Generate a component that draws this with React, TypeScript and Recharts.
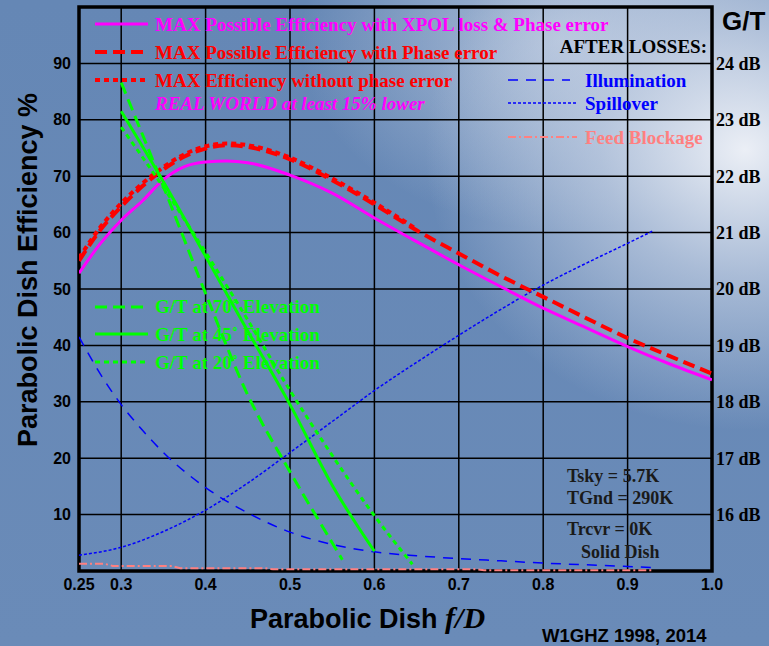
import { CartesianGrid, Line, LineChart, ReferenceArea, XAxis, YAxis } from 'recharts'

const SERIF = '"Liberation Serif", "Times New Roman", serif'
const SANS = '"Liberation Sans", Arial, sans-serif'

// axes
const fdTicks = [0.25, 0.3, 0.4, 0.5, 0.6, 0.7, 0.8, 0.9, 1.0]
const effTicks = [10, 20, 30, 40, 50, 60, 70, 80, 90]
const gtTicks = [16, 17, 18, 19, 20, 21, 22, 23, 24]

// efficiency curves (%)
const effFd = [0.25, 0.275, 0.3, 0.325, 0.35, 0.375, 0.4, 0.425, 0.45, 0.5, 0.55, 0.6, 0.65, 0.7, 0.75, 0.8, 0.85, 0.9, 0.95, 1.0]
const xpolPhaseEff = [52.8, 58.0, 62.2, 65.6, 69.4, 71.7, 72.5, 72.7, 72.4, 70.2, 67.0, 62.6, 58.4, 54.3, 50.4, 46.6, 43.2, 39.8, 36.7, 33.9]
const phaseErrEff = [55.0, 60.4, 64.6, 68.2, 71.2, 73.5, 74.9, 75.5, 75.2, 73.0, 69.3, 65.0, 60.4, 56.3, 52.3, 48.6, 44.9, 41.3, 38.1, 35.0]
const noPhaseFd = [0.25, 0.275, 0.3, 0.325, 0.35, 0.375, 0.4, 0.425, 0.45, 0.5, 0.55, 0.6, 0.65]
const noPhaseEff = [55.5, 60.9, 65.2, 68.7, 71.6, 73.9, 75.3, 75.8, 75.5, 73.3, 69.6, 65.3, 60.6]

// losses (%)
const illumFd = [0.25, 0.275, 0.3, 0.325, 0.35, 0.4, 0.45, 0.5, 0.55, 0.6, 0.65, 0.7, 0.75, 0.8, 0.85, 0.9, 0.93]
const illumLoss = [41.5, 35.0, 29.5, 25.0, 21.0, 14.8, 10.3, 6.9, 4.7, 3.4, 2.7, 2.2, 1.8, 1.4, 1.1, 0.8, 0.6]
const spillFd = [0.25, 0.3, 0.35, 0.4, 0.45, 0.5, 0.55, 0.6, 0.65, 0.7, 0.75, 0.8, 0.85, 0.9, 0.93]
const spillLoss = [2.8, 4.2, 7.0, 10.8, 15.6, 21.0, 26.5, 32.0, 37.0, 41.8, 46.4, 50.7, 54.5, 58.1, 60.3]
const blockFd = [0.25, 0.28, 0.29, 0.36, 0.37, 0.47, 0.48, 0.72, 0.73, 0.93]
const blockLoss = [1.3, 1.3, 0.9, 0.9, 0.5, 0.5, 0.3, 0.3, 0.15, 0.15]

// G/T (dB)
const gt70Fd = [0.3, 0.35, 0.4, 0.45, 0.5, 0.55, 0.562]
const gt70 = [23.66, 21.82, 19.92, 18.12, 16.76, 15.5, 15.2]
const gt45Fd = [0.3, 0.35, 0.4, 0.45, 0.5, 0.55, 0.6]
const gt45 = [23.15, 21.9, 20.58, 19.25, 17.95, 16.52, 15.35]
const gt20Fd = [0.3, 0.35, 0.4, 0.45, 0.5, 0.55, 0.6, 0.645]
const gt20 = [22.87, 21.8, 20.65, 19.45, 18.2, 17.05, 15.98, 15.12]

const toPoints = (xs: number[], ys: number[]) => xs.map((fd, i) => ({ fd, v: ys[i] }))

const series = [
  { key: 'illum', data: toPoints(illumFd, illumLoss), axis: 'left', color: '#0000ff', width: 1.5, dash: '10 8', curve: 'monotone' },
  { key: 'spill', data: toPoints(spillFd, spillLoss), axis: 'left', color: '#0000ff', width: 1.5, dash: '3 2', curve: 'monotone' },
  { key: 'block', data: toPoints(blockFd, blockLoss), axis: 'left', color: '#ff8080', width: 2, dash: '8 3 2 3', curve: 'linear' },
  { key: 'noPhase', data: toPoints(noPhaseFd, noPhaseEff), axis: 'left', color: '#ff0000', width: 4, dash: '5 4', curve: 'monotone' },
  { key: 'phaseErr', data: toPoints(effFd, phaseErrEff), axis: 'left', color: '#ff0000', width: 4, dash: '12 6', curve: 'monotone' },
  { key: 'xpol', data: toPoints(effFd, xpolPhaseEff), axis: 'left', color: '#ff00ff', width: 3, dash: undefined, curve: 'monotone' },
  { key: 'gt70', data: toPoints(gt70Fd, gt70), axis: 'right', color: '#00ff00', width: 3, dash: '12 6', curve: 'monotone' },
  { key: 'gt45', data: toPoints(gt45Fd, gt45), axis: 'right', color: '#00ff00', width: 3, dash: undefined, curve: 'monotone' },
  { key: 'gt20', data: toPoints(gt20Fd, gt20), axis: 'right', color: '#00ff00', width: 3, dash: '5 4', curve: 'monotone' },
]

const bg =
  'radial-gradient(ellipse 320px 280px at 745px 150px, rgba(242,244,249,0.95), rgba(205,215,232,0.65) 45%, rgba(110,140,185,0) 100%),' +
  'radial-gradient(ellipse 260px 190px at 560px 40px, rgba(205,215,232,0.7), rgba(110,140,185,0) 100%),' +
  'linear-gradient(180deg, #6587b5 0%, #6a8bb8 100%)'

function Overlay() {
  const legendText = { fontFamily: SERIF, fontWeight: 'bold' as const, fontSize: 19 }
  return (
    <svg width={769} height={646} style={{ position: 'absolute', left: 0, top: 0, pointerEvents: 'none' }}>
      <line x1={95} x2={148} y1={24} y2={24} stroke="#ff00ff" strokeWidth={3} />
      <text x={155} y={31} fill="#ff00ff" {...legendText}>MAX Possible Efficiency with XPOL loss &amp; Phase error</text>
      <line x1={95} x2={148} y1={52} y2={52} stroke="#ff0000" strokeWidth={4} strokeDasharray="12 6" />
      <text x={155} y={59} fill="#ff0000" {...legendText}>MAX Possible Efficiency with Phase error</text>
      <line x1={95} x2={148} y1={80} y2={80} stroke="#ff0000" strokeWidth={4} strokeDasharray="5 4" />
      <text x={155} y={87} fill="#ff0000" {...legendText}>MAX Efficiency without phase error</text>
      <text x={155} y={110} fill="#ff00ff" {...legendText} fontStyle="italic">REAL WORLD at least 15% lower</text>

      <text x={707} y={53} fill="#000" textAnchor="end" {...legendText}>AFTER LOSSES:</text>
      <line x1={508} x2={570} y1={80} y2={80} stroke="#0000ff" strokeWidth={1.5} strokeDasharray="10 8" />
      <text x={585} y={87} fill="#0000ff" {...legendText}>Illumination</text>
      <line x1={508} x2={577} y1={103} y2={103} stroke="#0000ff" strokeWidth={1.5} strokeDasharray="3 2" />
      <text x={585} y={110} fill="#0000ff" {...legendText}>Spillover</text>
      <line x1={508} x2={577} y1={137} y2={137} stroke="#ff8080" strokeWidth={2} strokeDasharray="8 3 2 3" />
      <text x={585} y={144} fill="#ff8080" {...legendText}>Feed Blockage</text>

      <line x1={95} x2={148} y1={307} y2={307} stroke="#00ff00" strokeWidth={3} strokeDasharray="12 6" />
      <text x={155} y={313} fill="#00ff00" {...legendText}>G/T at 70˚ Elevation</text>
      <line x1={95} x2={148} y1={334} y2={334} stroke="#00ff00" strokeWidth={3} />
      <text x={155} y={341} fill="#00ff00" {...legendText}>G/T at 45˚ Elevation</text>
      <line x1={95} x2={148} y1={362} y2={362} stroke="#00ff00" strokeWidth={3} strokeDasharray="5 4" />
      <text x={155} y={369} fill="#00ff00" {...legendText}>G/T at 20˚ Elevation</text>

      <text x={567} y={482} fill="#1a1a1a" {...legendText} fontSize={18}>Tsky = 5.7K</text>
      <text x={567} y={504} fill="#1a1a1a" {...legendText} fontSize={18}>TGnd = 290K</text>
      <text x={567} y={535} fill="#1a1a1a" {...legendText} fontSize={18}>Trcvr = 0K</text>
      <text x={581} y={558} fill="#1a1a1a" {...legendText} fontSize={18}>Solid Dish</text>

      <text x={722} y={30} fill="#000" fontFamily={SANS} fontWeight="bold" fontSize={26}>G/T</text>
      <text transform="translate(37,270) rotate(-90)" textAnchor="middle" fill="#000" fontFamily={SANS} fontWeight="bold" fontSize={27}>
        Parabolic Dish Efficiency %
      </text>
      <text x={250} y={628} fill="#000" fontFamily={SANS} fontWeight="bold" fontSize={27}>
        Parabolic Dish <tspan fontFamily={SERIF} fontStyle="italic" fontSize={30}>f/D</tspan>
      </text>
      <text x={542} y={642} fill="#000" fontFamily={SANS} fontWeight="bold" fontSize={18.5}>W1GHZ 1998, 2014</text>
    </svg>
  )
}

export default function App() {
  const tickStyle = { fill: '#000', fontFamily: SANS, fontWeight: 'bold', fontSize: 16 }
  return (
    <div style={{ position: 'absolute', left: 0, top: 0, width: 769, height: 646, background: bg, overflow: 'hidden' }}>
      <LineChart width={769} height={646} margin={{ top: 7, right: 0, bottom: 45, left: 29 }}>
        <CartesianGrid yAxisId="left" stroke="#000" strokeWidth={1.5} fill="none" />
        <XAxis
          dataKey="fd"
          type="number"
          domain={[0.25, 1]}
          ticks={fdTicks}
          allowDataOverflow
          axisLine={false}
          tickLine={false}
          height={30}
          tick={tickStyle}
          tickFormatter={(v: number) => (v === 1 ? '1.0' : String(v))}
        />
        <YAxis
          yAxisId="left"
          domain={[0, 100]}
          ticks={effTicks}
          axisLine={false}
          tickLine={false}
          width={50}
          tick={tickStyle}
        />
        <YAxis
          yAxisId="right"
          orientation="right"
          domain={[15, 25]}
          ticks={gtTicks}
          axisLine={false}
          tickLine={false}
          tickSize={2}
          width={57}
          tick={{ fill: '#000', fontFamily: SERIF, fontWeight: 'bold', fontSize: 18 }}
          tickFormatter={(v: number) => `${v} dB`}
        />
        {series.map((s) => (
          <Line
            key={s.key}
            yAxisId={s.axis}
            data={s.data}
            dataKey="v"
            type={s.curve as 'monotone' | 'linear'}
            stroke={s.color}
            strokeWidth={s.width}
            strokeDasharray={s.dash}
            dot={false}
            activeDot={false}
            isAnimationActive={false}
          />
        ))}
        <ReferenceArea yAxisId="left" x1={0.25} x2={1} y1={0} y2={100} fill="none" stroke="#000" strokeWidth={3.5} />
      </LineChart>
      <Overlay />
    </div>
  )
}
